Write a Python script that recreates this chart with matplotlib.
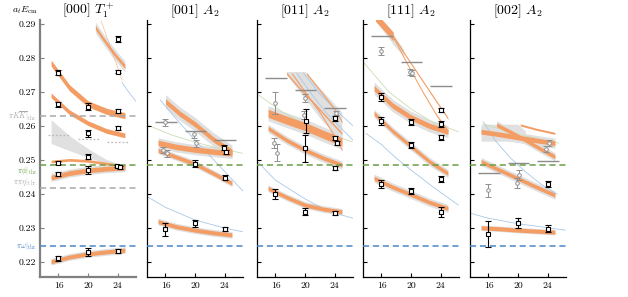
import numpy as np
import matplotlib
matplotlib.use("Agg")
import matplotlib.pyplot as plt

plt.rcParams["font.family"] = ["cmr10", "DejaVu Serif"]
plt.rcParams["mathtext.fontset"] = "cm"
plt.rcParams["axes.unicode_minus"] = False

TITLES = [r"$[000]\ T_1^+$", r"$[001]\ A_2$", r"$[011]\ A_2$", r"$[111]\ A_2$", r"$[002]\ A_2$"]
L_TICKS = [16, 20, 24]
E_TICKS = [0.22, 0.23, 0.24, 0.25, 0.26, 0.27, 0.28, 0.29]

# thresholds
THR_LABELS = [r"$\pi K\overline{K}|_{\rm thr.}$", r"$\pi\phi|_{\rm thr.}$",
              r"$\pi\pi\eta|_{\rm thr.}$", r"$\pi\omega|_{\rm thr.}$"]
THR_E = [0.2630, 0.2485, 0.2417, 0.2245]
THR_COLORS = ["#aaaaaa", "#6b9e45", "#aaaaaa", "#4a86c5"]
THR_ALL_PANELS = [False, True, False, True]
THR_VA = ["center", "top", "bottom", "center"]

BANDL = [15, 17.5, 20, 22.5, 25]

# orange bands: (L, E, half width, gray half width)
P1_ORANGE = [
    (BANDL, [0.2785, 0.2712, 0.2665, 0.2643, 0.2630], 0.0009, 0),
    (BANDL, [0.2690, 0.2640, 0.2608, 0.2585, 0.2572], 0.0007, 0),
    (BANDL, [0.2495, 0.2500, 0.2497, 0.2489, 0.2481], 0.0004, 0),
    (BANDL, [0.2448, 0.2461, 0.2469, 0.2474, 0.2477], 0.0007, 0.0012),
    (BANDL, [0.2200, 0.2214, 0.2223, 0.2229, 0.2234], 0.0006, 0.0010),
    ([21, 22, 23, 24, 25], [0.2890, 0.2858, 0.2828, 0.2800, 0.2775], 0.0006, 0.0016),
    ([21.7, 22.5, 23.5, 24.6], [0.2912, 0.2862, 0.2800, 0.2735], 0.0002, 0),
]
P2_ORANGE = [
    ([16, 18, 20, 22.5, 25], [0.2672, 0.2635, 0.2605, 0.2560, 0.2524], 0.0008, 0.0020),
    (BANDL, [0.2550, 0.2538, 0.2530, 0.2524, 0.2519], 0.0008, 0.0015),
    (BANDL, [0.2528, 0.2508, 0.2488, 0.2460, 0.2431], 0.0006, 0.0010),
    (BANDL, [0.2318, 0.2303, 0.2293, 0.2285, 0.2279], 0.0006, 0.0010),
]
P3_ORANGE = [
    (BANDL, [0.2637, 0.2617, 0.2598, 0.2575, 0.2553], 0.0012, 0.0022),
    (BANDL, [0.2593, 0.2558, 0.2529, 0.2505, 0.2485], 0.0006, 0.0012),
    (BANDL, [0.2416, 0.2390, 0.2367, 0.2355, 0.2347], 0.0006, 0.0010),
    ([17.5, 19.5, 21.5, 23.5, 25], [0.2755, 0.2705, 0.2660, 0.2612, 0.2578], 0.0003, 0),
    ([18.2, 20, 22, 24, 25], [0.2755, 0.2700, 0.2640, 0.2570, 0.2529], 0.0003, 0),
    ([20.2, 22, 24, 25], [0.2755, 0.2705, 0.2650, 0.2612], 0.0003, 0),
]
P4_ORANGE = [
    ([15.2, 16.5, 17.6], [0.2921, 0.2890, 0.2863], 0.0013, 0),
    ([17.6, 19.5, 21.5, 23.5, 25], [0.2863, 0.2800, 0.2735, 0.2670, 0.2622], 0.0003, 0),
    ([17.6, 19.5, 21.5, 23.5, 25], [0.2860, 0.2782, 0.2703, 0.2630, 0.2585], 0.0003, 0),
    (BANDL, [0.2711, 0.2660, 0.2625, 0.2600, 0.2583], 0.0008, 0.0018),
    (BANDL, [0.2637, 0.2585, 0.2540, 0.2495, 0.2460], 0.0006, 0.0012),
    (BANDL, [0.2446, 0.2420, 0.2398, 0.2375, 0.2357], 0.0006, 0.0012),
]
P5_ORANGE = [
    (BANDL, [0.2583, 0.2575, 0.2566, 0.2557, 0.2549], 0.0007, 0.0015),
    ([17.1, 19, 21, 23, 25], [0.2603, 0.2582, 0.2558, 0.2533, 0.2509], 0.0006, 0.0012),
    ([20.3, 22.5, 25], [0.2603, 0.2590, 0.2578], 0.0003, 0),
    (BANDL, [0.2495, 0.2470, 0.2445, 0.2420, 0.2396], 0.0006, 0.0012),
    (BANDL, [0.2300, 0.2297, 0.2293, 0.2290, 0.2287], 0.0006, 0.0008),
]

# extra gray bands: (L, E, half width)
P1_GRAYBAND = [([15, 17.5, 20, 22.5, 24.5], [0.2583, 0.2549, 0.2520, 0.2495, 0.2484],
                [0.0035, 0.0022, 0.0013, 0.0006, 0.0002])]
P2_GRAYBAND = []
P3_GRAYBAND = [([17.5, 20, 22.5, 25], [0.2755, 0.2720, 0.2655, 0.2600],
                [0.0005, 0.0040, 0.0045, 0.0040])]
P4_GRAYBAND = [([15.2, 16.5, 17.6, 19], [0.2915, 0.2884, 0.2855, 0.2815],
                [0.0006, 0.0012, 0.0016, 0.0010])]
P5_GRAYBAND = [([15, 20, 21], [0.2580, 0.2580, 0.2575], [0.0025, 0.0025, 0.0010])]

# thin non-interacting curves
P1_BLUE = [([24.6, 25.5, 26.5], [0.2728, 0.2700, 0.2672])]
P2_BLUE = [([15.3, 17, 20, 23.4, 26.5], [0.2676, 0.2632, 0.2558, 0.2480, 0.2408]),
           ([13.5, 16, 20, 24, 26.5], [0.2392, 0.2360, 0.2323, 0.2299, 0.2288])]
P3_BLUE = [([18.9, 21, 23, 26.5], [0.2755, 0.2690, 0.2635, 0.2558]),
           ([19.8, 22, 24, 26.5], [0.2755, 0.2695, 0.2650, 0.2600]),
           ([13.7, 16, 20, 23, 26.5], [0.2492, 0.2440, 0.2385, 0.2350, 0.2328])]
P4_BLUE = [([13.9, 16, 18, 20, 23, 26.4], [0.2578, 0.2545, 0.2505, 0.2470, 0.2420, 0.2367])]
P5_BLUE = [([15.3, 17, 19, 21, 23, 25.3], [0.2612, 0.2555, 0.2505, 0.2465, 0.2430, 0.2399]),
           ([13.5, 16, 20, 24, 26.4], [0.2343, 0.2328, 0.2312, 0.2300, 0.2293])]
P1_GREEN = []
P2_GREEN = [([13.5, 17, 20, 23, 26.5], [0.2603, 0.2572, 0.2552, 0.2535, 0.2519])]
P3_GREEN = [([13.7, 17, 20, 23, 26.4], [0.2691, 0.2640, 0.2605, 0.2578, 0.2553])]
P4_GREEN = [([13.7, 17, 20, 23, 26.4], [0.2784, 0.2700, 0.2650, 0.2610, 0.2583])]
P5_GREEN = [([15.3, 20, 25.5], [0.2606, 0.2575, 0.2549])]

# lattice levels (L, E, err)
P1_BLACK = [(16, 0.2757, 0.0008), (16, 0.2664, 0.0007), (16, 0.2492, 0.0005), (16, 0.2458, 0.0007),
            (16, 0.2210, 0.0007), (20, 0.2656, 0.0010), (20, 0.2578, 0.0010), (20, 0.2509, 0.0007),
            (20, 0.2470, 0.0012), (20, 0.2228, 0.0012), (24, 0.2856, 0.0008), (24, 0.2760, 0.0005),
            (24, 0.2643, 0.0006), (24, 0.2593, 0.0006), (23.9, 0.2482, 0.0004), (24.4, 0.2478, 0.0004),
            (24, 0.2232, 0.0005)]
P2_BLACK = [(16, 0.2295, 0.0018), (20, 0.2489, 0.0010), (20, 0.2313, 0.0010), (23.9, 0.2536, 0.0008),
            (24.2, 0.2522, 0.0006), (24, 0.2448, 0.0006), (24, 0.2297, 0.0006)]
P3_BLACK = [(16, 0.2400, 0.0015), (20, 0.2347, 0.0010), (20.2, 0.2615, 0.0036), (20, 0.2534, 0.0040),
            (24, 0.2622, 0.0008), (24, 0.2563, 0.0006), (24.3, 0.2549, 0.0006), (24, 0.2475, 0.0006),
            (24, 0.2343, 0.0005)]
P4_BLACK = [(16, 0.2686, 0.0012), (16, 0.2615, 0.0012), (16, 0.2428, 0.0012), (20, 0.2612, 0.0008),
            (20, 0.2544, 0.0009), (20, 0.2408, 0.0008), (24, 0.2647, 0.0007), (24, 0.2606, 0.0008),
            (24, 0.2566, 0.0008), (24, 0.2443, 0.0009), (24, 0.2347, 0.0015)]
P5_BLACK = [(16, 0.2282, 0.0038), (20, 0.2315, 0.0015), (24, 0.2297, 0.0010), (24, 0.2429, 0.0008)]

P1_GRAYPTS = []
P2_GRAYPTS = [(16, 0.2611, 0.0010), (15.7, 0.2529, 0.0008), (16.2, 0.2519, 0.0010),
              (19.8, 0.2575, 0.0010), (20.2, 0.2549, 0.0010)]
P3_GRAYPTS = [(16, 0.2668, 0.0032), (15.8, 0.2549, 0.0015), (16.2, 0.2521, 0.0025),
              (20, 0.2681, 0.0012), (19.8, 0.2632, 0.0012), (24.2, 0.2637, 0.0006)]
P4_GRAYPTS = [(16, 0.2821, 0.0012), (19.8, 0.2759, 0.0008), (20.2, 0.2756, 0.0010)]
P5_GRAYPTS = [(16, 0.2410, 0.0020), (19.8, 0.2431, 0.0015), (20.2, 0.2456, 0.0015),
              (23.8, 0.2532, 0.0008), (24.2, 0.2549, 0.0008)]

# short horizontal levels at L = 16, 20, 24
P1_NI = []
P2_NI = [0.2612, 0.2586, 0.2558]
P3_NI = [0.2740, 0.2706, 0.2654]
P4_NI = [0.2865, 0.2789, 0.2717]
P5_NI = [0.2462, 0.2490, 0.2497]
P1_DOTTED = [0.2574, 0.2562, 0.2553]

ORANGE = [P1_ORANGE, P2_ORANGE, P3_ORANGE, P4_ORANGE, P5_ORANGE]
GRAYBAND = [P1_GRAYBAND, P2_GRAYBAND, P3_GRAYBAND, P4_GRAYBAND, P5_GRAYBAND]
BLUE = [P1_BLUE, P2_BLUE, P3_BLUE, P4_BLUE, P5_BLUE]
GREEN = [P1_GREEN, P2_GREEN, P3_GREEN, P4_GREEN, P5_GREEN]
BLACK = [P1_BLACK, P2_BLACK, P3_BLACK, P4_BLACK, P5_BLACK]
GRAYPTS = [P1_GRAYPTS, P2_GRAYPTS, P3_GRAYPTS, P4_GRAYPTS, P5_GRAYPTS]
NI = [P1_NI, P2_NI, P3_NI, P4_NI, P5_NI]

W, H = 628, 297
fig = plt.figure(figsize=(W / 100, H / 100), dpi=100)
lefts = [40, 147, 257, 363, 470]

for i in range(5):
    ax = fig.add_axes([lefts[i] / W, 20 / H, 96 / W, 257 / H])
    ax.set_xlim(13.5, 26.5)
    ax.set_ylim(0.2155, 0.29118)

    for L, E, hw in GRAYBAND[i]:
        E = np.array(E); hw = np.array(hw)
        ax.fill_between(L, E - hw, E + hw, color="#e0e0e0", lw=0, zorder=1)
    for L, E, hw, ghw in ORANGE[i]:
        E = np.array(E)
        if ghw:
            ax.fill_between(L, E - ghw, E + ghw, color="#e0e0e0", lw=0, zorder=1)
    for L, E in BLUE[i]:
        ax.plot(L, E, color="#aac8e6", lw=0.6, zorder=1.5)
    for L, E in GREEN[i]:
        ax.plot(L, E, color="#c9ddb2", lw=0.6, zorder=1.5)
    for L, E, hw, ghw in ORANGE[i]:
        E = np.array(E)
        ax.fill_between(L, E - hw, E + hw, color="#f39d64", lw=0, zorder=2)

    for e, c, allp in zip(THR_E, THR_COLORS, THR_ALL_PANELS):
        if allp or i == 0:
            ax.axhline(e, color=c, lw=1.1, ls=(0, (4, 2.5)), zorder=3)

    for L, e in zip(L_TICKS, NI[i]):
        ax.hlines(e, L - 1.4, L + 1.5, color="#8c8c8c", lw=1.0, zorder=3)
    if i == 0:
        for L, e in zip(L_TICKS, P1_DOTTED):
            ax.hlines(e, L - 1.4, L + 1.5, color="#bbbbbb", lw=0.9, ls=(0, (1.5, 1.5)), zorder=3)

    if GRAYPTS[i]:
        g = np.array(GRAYPTS[i])
        ax.errorbar(g[:, 0], g[:, 1], yerr=g[:, 2], fmt="o", ms=2.6, mfc="white", mec="#8f8f8f",
                    mew=0.7, ecolor="#8f8f8f", elinewidth=0.7, capsize=2, capthick=0.7, zorder=4)
    b = np.array(BLACK[i])
    ax.errorbar(b[:, 0], b[:, 1], yerr=b[:, 2], fmt="s", ms=3.0, mfc="white", mec="black",
                mew=0.8, ecolor="black", elinewidth=0.8, capsize=2.2, capthick=0.8, zorder=5)

    ax.set_xticks(L_TICKS)
    ax.set_xticklabels([str(v) for v in L_TICKS], fontsize=7)
    ax.set_yticks(E_TICKS)
    if i == 0:
        ax.set_yticklabels(["%.2f" % v for v in E_TICKS], fontsize=7)
    else:
        ax.set_yticklabels([])
    ax.tick_params(direction="in", length=3, width=0.8, pad=3)
    for s in ["top", "right"]:
        ax.spines[s].set_visible(False)
    spc = "#808080" if i == 0 else "black"
    lw = 1.6 if i == 0 else 0.9
    for s in ["left", "bottom"]:
        ax.spines[s].set_color(spc)
        ax.spines[s].set_linewidth(lw)
    ax.tick_params(colors=spc, labelcolor="black")
    ax.set_title(TITLES[i], fontsize=10, pad=1)

    if i == 0:
        for lab, e, c, va in zip(THR_LABELS, THR_E, THR_COLORS, THR_VA):
            ax.text(-0.02, e, lab, transform=ax.get_yaxis_transform(), ha="right", va=va,
                    fontsize=5.5, color=c)

fig.text(38 / W, 1 - 10 / H, r"$a_t E_{\rm cm}$", ha="right", va="center", fontsize=7)
fig.savefig("out.png", dpi=100)
